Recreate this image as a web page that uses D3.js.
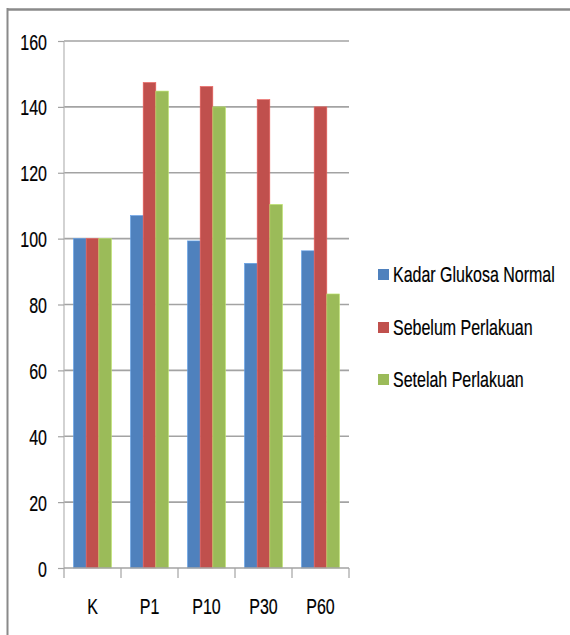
<!DOCTYPE html>
<html>
<head>
<meta charset="utf-8">
<script src="https://cdn.jsdelivr.net/npm/d3@7"></script>
<style>
  html, body { margin: 0; padding: 0; background: #fff; }
  svg { display: block; }
  text { font-family: "Liberation Sans", Arial, sans-serif; fill: #000; stroke: #000; stroke-width: 0.15; }
</style>
</head>
<body>
<svg id="chart" width="570" height="635"></svg>
<script>
// Kadar glukosa per kelompok perlakuan
const categories = ["K", "P1", "P10", "P30", "P60"];
const seriesNames = ["Kadar Glukosa Normal", "Sebelum Perlakuan", "Setelah Perlakuan"];
const kadarNormal = [100, 107, 99.3, 92.5, 96.3];
const sebelum = [100, 147.4, 146.2, 142.2, 140];
const setelah = [100, 144.8, 140, 110.4, 83.2];
const yTicks = [0, 20, 40, 60, 80, 100, 120, 140, 160];
const colors = ["#4F81BD", "#C0504D", "#9BBB59"];

const seriesValues = [kadarNormal, sebelum, setelah];
const rows = categories.map((c, i) => ({ cat: c, vals: seriesValues.map(s => s[i]) }));

const svg = d3.select("#chart");
const plot = { left: 64, right: 349, top: 41, bottom: 568 };

// tall, narrow lettering: 16px glyphs stretched vertically
const fontSize = 16;
const sx = 1.0, sy = 1.4;
const capMid = fontSize * 0.716 / 2;   // half the cap height, in unscaled units
const tall = (dx, dy) => `translate(${dx},${dy}) scale(${sx},${sy}) translate(0,${capMid})`;

// outer frame (top and left edges)
svg.append("line").attr("x1", 7).attr("x2", 570).attr("y1", 9.5).attr("y2", 9.5)
  .attr("stroke", "#8a8a8a").attr("stroke-width", 2.5);
svg.append("line").attr("x1", 7.5).attr("x2", 7.5).attr("y1", 8).attr("y2", 635)
  .attr("stroke", "#8a8a8a").attr("stroke-width", 2);

const x = d3.scaleBand().domain(categories).range([plot.left, plot.right]);
const x1 = d3.scaleBand().domain(d3.range(seriesNames.length))
  .range([0, x.bandwidth()]).paddingInner(0).paddingOuter(0.75);
const y = d3.scaleLinear().domain([0, 160]).range([plot.bottom, plot.top]);

// horizontal gridlines
svg.append("g").selectAll("line").data(yTicks.filter(t => t > 0)).join("line")
  .attr("x1", plot.left).attr("x2", plot.right)
  .attr("y1", d => y(d)).attr("y2", d => y(d))
  .attr("stroke", "#a3a3a3").attr("stroke-width", 1.6);

// bars
const groups = svg.append("g").selectAll("g").data(rows).join("g")
  .attr("transform", d => `translate(${x(d.cat)},0)`);
groups.selectAll("rect").data(d => d.vals.map((v, i) => ({ v, i }))).join("rect")
  .attr("x", d => x1(d.i))
  .attr("width", x1.bandwidth())
  .attr("y", d => y(d.v))
  .attr("height", d => y(0) - y(d.v))
  .attr("fill", d => colors[d.i])
  .attr("stroke", d => d3.color(colors[d.i]).brighter(0.6))
  .attr("stroke-width", 0.6);

// y axis
const yAxis = svg.append("g").attr("transform", `translate(${plot.left},0)`)
  .call(d3.axisLeft(y).tickValues(yTicks).tickSize(6).tickPadding(0).tickFormat(d3.format("d")));
yAxis.select(".domain").attr("stroke", "#b5b5b5").attr("stroke-width", 1.2)
  .attr("d", `M0,${plot.top}V${plot.bottom}`);
yAxis.selectAll(".tick line").attr("stroke", "#a3a3a3").attr("stroke-width", 1.2);
yAxis.selectAll(".tick text")
  .attr("x", null).attr("y", null).attr("dy", null)
  .attr("text-anchor", "end")
  .attr("font-size", fontSize)
  .attr("transform", tall(-17, 0));

// x axis
const xAxis = svg.append("g").attr("transform", `translate(0,${plot.bottom})`)
  .call(d3.axisBottom(x).tickSize(0).tickPadding(0));
xAxis.select(".domain").attr("stroke", "#a3a3a3").attr("stroke-width", 1.6)
  .attr("d", `M${plot.left},0H${plot.right}`);
xAxis.selectAll(".tick text")
  .attr("y", null).attr("dy", null)
  .attr("font-size", fontSize)
  .attr("transform", tall(0, 38));
// category boundary ticks
const bounds = categories.map(c => x(c)).concat([plot.right]);
xAxis.append("g").selectAll("line").data(bounds).join("line")
  .attr("x1", d => d).attr("x2", d => d).attr("y1", 0).attr("y2", 10)
  .attr("stroke", "#a3a3a3").attr("stroke-width", 1.2);

// legend
const legendY = [273.5, 326.5, 378.5];
const legend = svg.append("g").selectAll("g").data(seriesNames).join("g")
  .attr("transform", (d, i) => `translate(378,${legendY[i]})`);
legend.append("rect").attr("x", 0).attr("y", -4.5).attr("width", 11).attr("height", 11)
  .attr("fill", (d, i) => colors[i]);
legend.append("text").text(d => d)
  .attr("font-size", fontSize)
  .attr("transform", tall(15, 0));
</script>
</body>
</html>
